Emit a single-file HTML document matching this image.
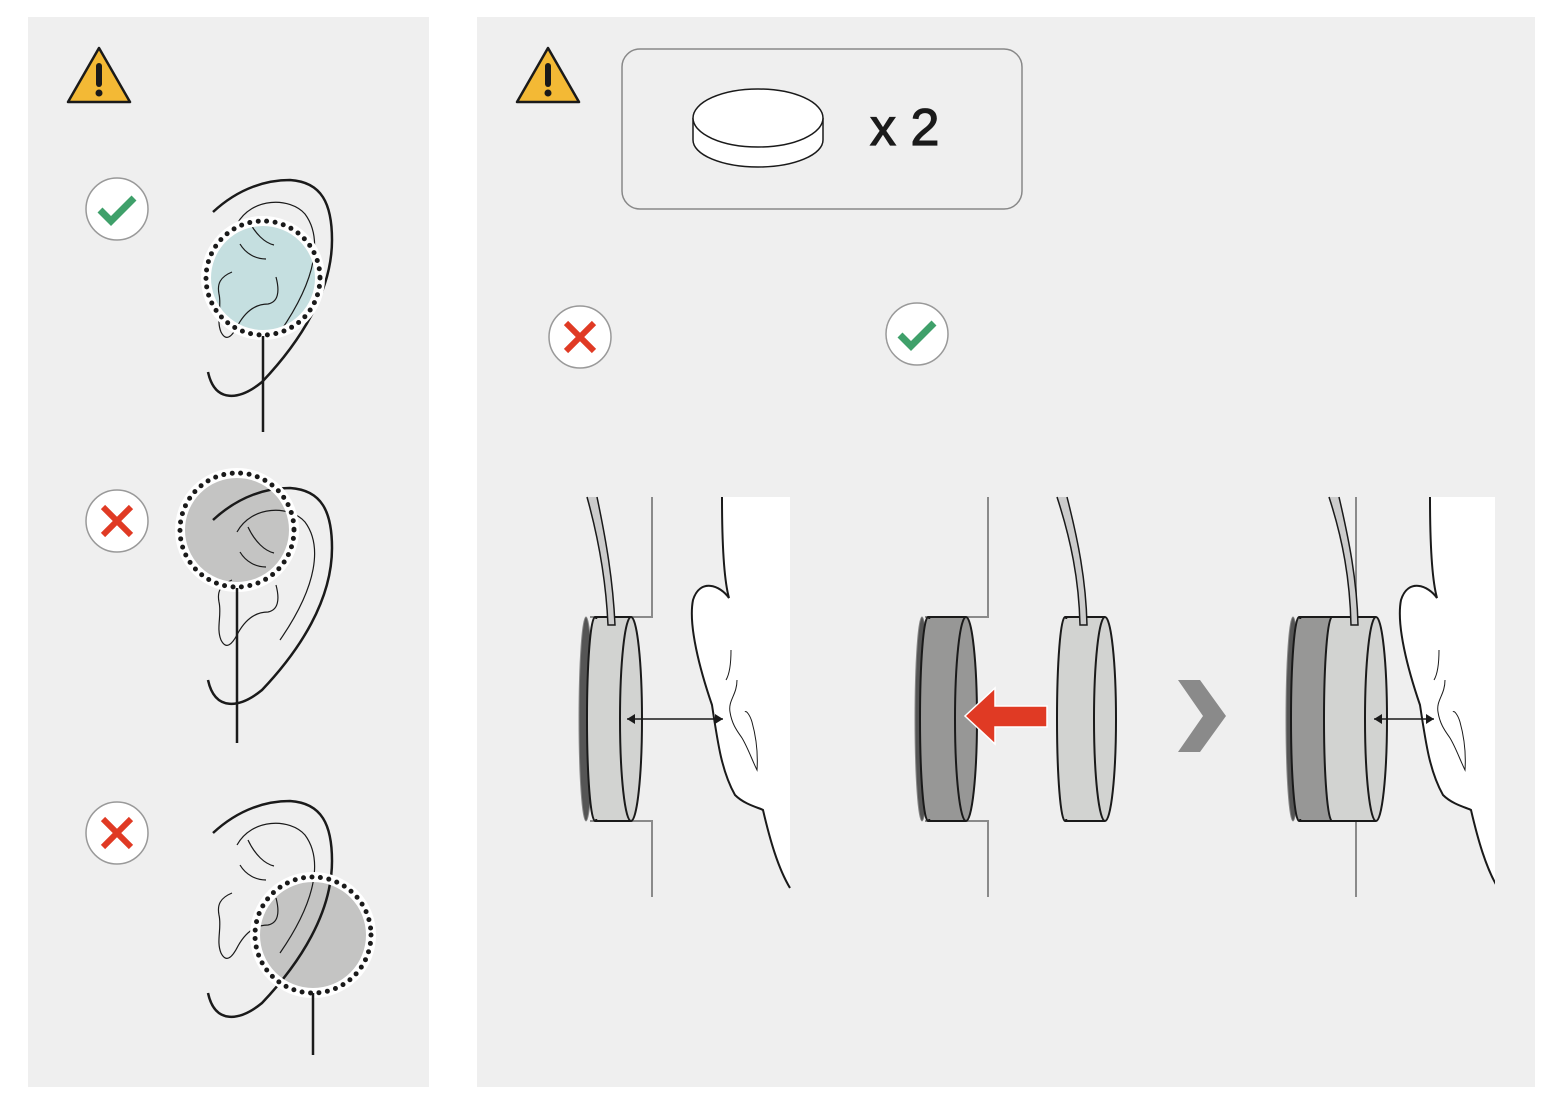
<!DOCTYPE html>
<html><head><meta charset="utf-8"><style>html,body{margin:0;padding:0;background:#fff}svg{display:block}</style></head>
<body>
<svg width="1564" height="1116" viewBox="0 0 1564 1116" xmlns="http://www.w3.org/2000/svg" font-family="Liberation Sans, sans-serif">
<defs>
<clipPath id="c3"><rect x="1380" y="490" width="115" height="420"/></clipPath>
<g id="warn">
 <path d="M0,-27 L31,27 L-31,27 Z" fill="#f3b935" stroke="#1a1a1a" stroke-width="2.5" stroke-linejoin="round"/>
 <rect x="-3" y="-12" width="6" height="24" rx="3" fill="#1a1a1a"/>
 <circle cx="0" cy="18" r="3.5" fill="#1a1a1a"/>
</g>
<g id="ok"><circle r="31" fill="#fff" stroke="#999" stroke-width="1.5"/><path d="M-17,1 L-6,12 L17,-11" fill="none" stroke="#3fa06a" stroke-width="7"/></g>
<g id="no"><circle r="31" fill="#fff" stroke="#999" stroke-width="1.5"/><path d="M-14,-14 L14,14 M14,-14 L-14,14" stroke="#e03a24" stroke-width="6"/></g>
<g id="ear" fill="none" stroke="#1a1a1a">
 <path d="M213,520 C240,495 268,488 290,488 C322,490 332,512 332,548 C332,600 300,650 262,690 C240,708 215,712 208,680" stroke-width="2.5"/>
 <path d="M237,532 C252,505 290,505 305,522 C322,545 318,585 280,640" stroke-width="1.2"/>
 <path d="M248,527 C255,542 265,551 274,553" stroke-width="1.2"/>
 <path d="M240,552 C246,562 256,567 266,567" stroke-width="1.2"/>
 <path d="M232,580 C220,585 217,592 219,602 C222,615 216,628 221,640 C226,650 232,645 238,633 C248,615 260,612 268,612 C278,610 280,600 276,585" stroke-width="1.2"/>
</g>
<g id="head">
 <path d="M722,497 C722,540 724,580 729,598 C720,585 700,578 693,600 C688,625 700,670 712,705 C718,745 722,772 735,795 C745,805 760,808 763,810 C770,840 778,868 790,888 L790,497 Z" fill="#fff"/>
 <path d="M722,497 C722,540 724,580 729,598 C720,585 700,578 693,600 C688,625 700,670 712,705 C718,745 722,772 735,795 C745,805 760,808 763,810 C770,840 778,868 790,888" fill="none" stroke="#1a1a1a" stroke-width="2"/>
 <path d="M731,650 C731,665 729,675 726,680 M737,680 C737,695 728,700 730,712 C732,725 738,732 742,738 C748,748 752,760 757,770 C758,755 757,740 752,722 C750,715 746,710 745,712" fill="none" stroke="#1a1a1a" stroke-width="1"/>
</g>
</defs>
<rect x="28" y="17" width="401" height="1070" fill="#efefef"/>
<rect x="477" y="17" width="1058" height="1070" fill="#efefef"/>
<use href="#warn" x="99" y="75"/>
<use href="#warn" x="548" y="75"/>
<use href="#ok" x="117" y="209"/>
<use href="#no" x="117" y="521"/>
<use href="#no" x="117" y="833"/>
<use href="#no" x="580" y="337"/>
<use href="#ok" x="917" y="334"/>

<circle cx="263" cy="278" r="57" fill="#c5dfe0"/>
<use href="#ear" transform="translate(0,-308)"/>
<circle cx="263" cy="278" r="57" fill="none" stroke="#fff" stroke-width="10"/>
<circle cx="263" cy="278" r="57" fill="none" stroke="#1a1a1a" stroke-width="5" stroke-dasharray="0 8.5" stroke-linecap="round"/>
<line x1="263" y1="336" x2="263" y2="432" stroke="#1a1a1a" stroke-width="2.5"/>

<circle cx="237" cy="530" r="57" fill="#c4c4c3"/>
<use href="#ear"/>
<circle cx="237" cy="530" r="57" fill="none" stroke="#fff" stroke-width="10"/>
<circle cx="237" cy="530" r="57" fill="none" stroke="#1a1a1a" stroke-width="5" stroke-dasharray="0 8.5" stroke-linecap="round"/>
<line x1="237" y1="588" x2="237" y2="743" stroke="#1a1a1a" stroke-width="2.5"/>

<circle cx="313" cy="935" r="58" fill="#c4c4c3"/>
<use href="#ear" transform="translate(0,313)"/>
<circle cx="313" cy="935" r="58" fill="none" stroke="#fff" stroke-width="10"/>
<circle cx="313" cy="935" r="58" fill="none" stroke="#1a1a1a" stroke-width="5" stroke-dasharray="0 8.5" stroke-linecap="round"/>
<line x1="313" y1="993" x2="313" y2="1055" stroke="#1a1a1a" stroke-width="2.5"/>

<rect x="622" y="49" width="400" height="160" rx="18" fill="none" stroke="#888" stroke-width="1.5"/>
<path d="M693,118 L693,140 A65,27 0 0 0 823,140 L823,118" fill="#fff" stroke="#1a1a1a" stroke-width="1.5"/>
<ellipse cx="758" cy="118" rx="65" ry="29" fill="#fff" stroke="#1a1a1a" stroke-width="1.5"/>
<text x="870" y="145" font-size="52" fill="#1a1a1a" stroke="#1a1a1a" stroke-width="1.2">x 2</text>

<path d="M652,497 L652,617 L590,617 M590,821 L652,821 L652,897" fill="none" stroke="#8a8a8a" stroke-width="2"/>
<use href="#head"/>
<ellipse cx="586" cy="719" rx="7" ry="102" fill="#555" stroke="#888" stroke-width="1"/>
<rect x="595" y="617" width="36" height="204" fill="#d2d3d1"/>
<ellipse cx="595" cy="719" rx="8" ry="102" fill="#d2d3d1" stroke="#1a1a1a" stroke-width="2"/>
<rect x="595" y="619" width="36" height="200" fill="#d2d3d1"/>
<path d="M595,617 L631,617 M595,821 L631,821" stroke="#1a1a1a" stroke-width="2"/>
<ellipse cx="631" cy="719" rx="11" ry="102" fill="#d2d3d1" stroke="#1a1a1a" stroke-width="2"/>
<path d="M587,497 C599,540 606,580 608,625 L615,625 C613,580 606,540 597,497" fill="#ccc" stroke="#1a1a1a" stroke-width="1.5"/>
<path d="M627,719 L723,719" stroke="#1a1a1a" stroke-width="1.5"/>
<path d="M627,719 l8,-5 v10 z M723,719 l-8,-5 v10 z" fill="#1a1a1a"/>

<path d="M988,497 L988,617 L925,617 M925,821 L988,821 L988,897" fill="none" stroke="#8a8a8a" stroke-width="2"/>
<ellipse cx="922" cy="719" rx="7" ry="102" fill="#555" stroke="#888" stroke-width="1"/>
<rect x="928" y="617" width="38" height="204" fill="#979796"/>
<ellipse cx="928" cy="719" rx="8" ry="102" fill="#979796" stroke="#1a1a1a" stroke-width="2"/>
<rect x="928" y="619" width="38" height="200" fill="#979796"/>
<path d="M928,617 L966,617 M928,821 L966,821" stroke="#1a1a1a" stroke-width="2"/>
<ellipse cx="966" cy="719" rx="11" ry="102" fill="#979796" stroke="#1a1a1a" stroke-width="2"/>
<path d="M1047,706 L995,706 L995,688 L965,716 L995,744 L995,727 L1047,727 Z" fill="#e03a24" stroke="#fff" stroke-width="1.5"/>
<rect x="1065" y="617" width="40" height="204" fill="#d2d3d1"/>
<ellipse cx="1065" cy="719" rx="8" ry="102" fill="#d2d3d1" stroke="#1a1a1a" stroke-width="2"/>
<rect x="1065" y="619" width="40" height="200" fill="#d2d3d1"/>
<path d="M1065,617 L1105,617 M1065,821 L1105,821" stroke="#1a1a1a" stroke-width="2"/>
<ellipse cx="1105" cy="719" rx="11" ry="102" fill="#d2d3d1" stroke="#1a1a1a" stroke-width="2"/>
<path d="M1057,497 C1071,540 1079,580 1080,625 L1087,625 C1086,580 1078,540 1067,497" fill="#ccc" stroke="#1a1a1a" stroke-width="1.5"/>
<path d="M1178,680 L1200,680 L1226,716 L1200,752 L1178,752 L1203,716 Z" fill="#8a8a8a"/>

<path d="M1356,497 L1356,617 M1356,821 L1356,897" fill="none" stroke="#8a8a8a" stroke-width="2"/>
<g clip-path="url(#c3)"><use href="#head" transform="translate(708,0)"/></g>
<ellipse cx="1293" cy="719" rx="7" ry="102" fill="#555" stroke="#888" stroke-width="1"/>
<rect x="1299" y="617" width="40" height="204" fill="#979796"/>
<ellipse cx="1299" cy="719" rx="8" ry="102" fill="#979796" stroke="#1a1a1a" stroke-width="2"/>
<rect x="1299" y="619" width="40" height="200" fill="#979796"/>
<path d="M1299,617 L1339,617 M1299,821 L1339,821" stroke="#1a1a1a" stroke-width="2"/>
<ellipse cx="1332" cy="719" rx="8" ry="102" fill="#d2d3d1" stroke="#1a1a1a" stroke-width="2"/>
<rect x="1332" y="617" width="44" height="204" fill="#d2d3d1"/>
<rect x="1332" y="619" width="44" height="200" fill="#d2d3d1"/>
<path d="M1332,617 L1376,617 M1332,821 L1376,821" stroke="#1a1a1a" stroke-width="2"/>
<ellipse cx="1376" cy="719" rx="11" ry="102" fill="#d2d3d1" stroke="#1a1a1a" stroke-width="2"/>
<path d="M1329,497 C1343,540 1350,580 1351,625 L1358,625 C1357,580 1349,540 1339,497" fill="#ccc" stroke="#1a1a1a" stroke-width="1.5"/>
<path d="M1374,719 L1434,719" stroke="#1a1a1a" stroke-width="1.5"/>
<path d="M1374,719 l8,-5 v10 z M1434,719 l-8,-5 v10 z" fill="#1a1a1a"/>
</svg>
</body></html>
